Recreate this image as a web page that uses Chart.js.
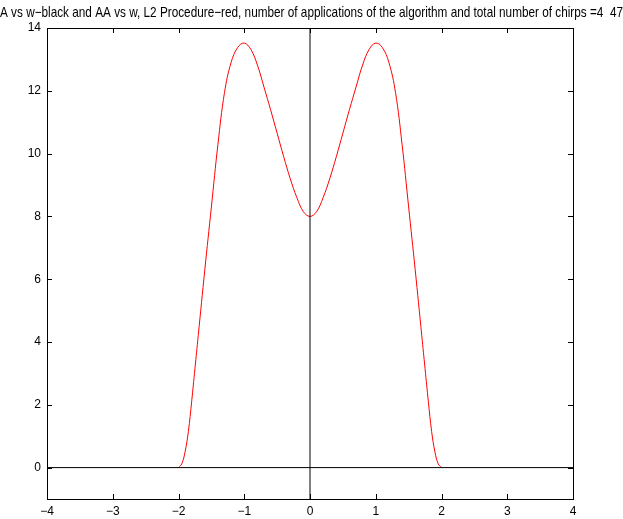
<!DOCTYPE html>
<html>
<head>
<meta charset="utf-8">
<script src="https://cdn.jsdelivr.net/npm/chart.js@4/dist/chart.umd.min.js"></script>
<style>
  body { margin: 0; background: #fff; }
  #wrap { width: 623px; height: 519px; }
</style>
</head>
<body>
<div id="wrap"><canvas id="plot" width="623" height="519"></canvas></div>
<script>
var titleText = 'A vs w\u2212black and AA vs w, L2 Procedure\u2212red, number of applications of the algorithm and total number of chirps =4  47';

var wRed = [-2, -1.95, -1.9, -1.85, -1.8, -1.75, -1.7, -1.6, -1.5, -1.4, -1.3, -1.2, -1.1, -1.0,
            -0.9, -0.8, -0.7, -0.6, -0.5, -0.4, -0.3, -0.2, -0.1, 0,
            0.1, 0.2, 0.3, 0.4, 0.5, 0.6, 0.7, 0.8, 0.9,
            1.0, 1.1, 1.2, 1.3, 1.4, 1.5, 1.6, 1.7, 1.75, 1.8, 1.85, 1.9, 1.95, 2];
var aaRed = [0, 0.12, 0.5, 1.15, 2.1, 3.15, 4.2, 6.3, 8.3, 10.3, 11.95, 12.9, 13.38, 13.52,
             13.32, 12.82, 12.12, 11.4, 10.65, 9.9, 9.2, 8.6, 8.15, 8.0,
             8.15, 8.6, 9.2, 9.9, 10.65, 11.4, 12.12, 12.82, 13.32,
             13.52, 13.38, 12.9, 11.95, 10.3, 8.3, 6.3, 4.2, 3.15, 2.1, 1.15, 0.5, 0.12, 0];

// black: A vs w (zero line) and the vertical line at w = 0
var wBlack = [-4, 4];
var aBlack = [0, 0];
var vLineX = [0, 0];
var vLineY = [-1, 14];

var xTicks = [-4, -3, -2, -1, 0, 1, 2, 3, 4];
var yTicks = [0, 2, 4, 6, 8, 10, 12, 14];

function pts(xs, ys) {
  return xs.map(function(x, i) { return { x: x, y: ys[i] }; });
}
function minus(v) {
  return String(v).replace('-', '\u2212');
}

// matlab style box with ticks pointing inwards
var boxTicks = {
  id: 'boxTicks',
  afterDatasetsDraw: function(chart) {
    var c = chart.ctx, a = chart.chartArea;
    var sx = chart.scales.x, sy = chart.scales.y;
    var len = 5;
    c.save();
    c.strokeStyle = '#000';
    c.lineWidth = 1;
    c.beginPath();
    xTicks.forEach(function(t) {
      var px = Math.round(sx.getPixelForValue(t)) + 0.5;
      c.moveTo(px, a.bottom); c.lineTo(px, a.bottom - len);
      c.moveTo(px, a.top); c.lineTo(px, a.top + len);
    });
    yTicks.forEach(function(t) {
      var py = Math.round(sy.getPixelForValue(t)) + 0.5;
      c.moveTo(a.left, py); c.lineTo(a.left + len, py);
      c.moveTo(a.right, py); c.lineTo(a.right - len, py);
    });
    c.stroke();
    c.strokeRect(Math.round(a.left) + 0.5, Math.round(a.top) + 0.5,
                 Math.round(a.right - a.left), Math.round(a.bottom - a.top));
    c.restore();
  }
};

var ctx = document.getElementById('plot').getContext('2d');

var myChart = new Chart(ctx, {
  type: 'scatter',
  data: {
    datasets: [{
      data: pts(wBlack, aBlack),
      showLine: true,
      borderColor: '#000',
      borderWidth: 1,
      pointRadius: 0
    }, {
      data: pts(vLineX, vLineY),
      showLine: true,
      borderColor: '#000',
      borderWidth: 1,
      pointRadius: 0
    }, {
      data: pts(wRed, aaRed),
      showLine: true,
      borderColor: '#ff0000',
      borderWidth: 1,
      pointRadius: 0,
      tension: 0.4
    }]
  },
  options: {
    responsive: false,
    animation: false,
    layout: { padding: 0 },
    plugins: {
      legend: { display: false },
      tooltip: { enabled: false },
      title: {
        display: true,
        text: titleText,
        color: '#000',
        font: { family: 'Liberation Sans', size: 14.5, weight: 'normal', lineHeight: 1.2 },
        padding: { top: 4, bottom: 6.6 }
      }
    },
    scales: {
      x: {
        type: 'linear',
        min: -4,
        max: 4,
        grid: { display: false, drawTicks: false },
        border: { display: false },
        afterBuildTicks: function(scale) {
          scale.ticks = xTicks.map(function(v) { return { value: v }; });
        },
        afterFit: function(scale) { scale.height = 20; },
        ticks: {
          color: '#000',
          padding: 5,
          maxRotation: 0,
          font: { family: 'Liberation Sans', size: 12 },
          callback: function(v) { return minus(v); }
        }
      },
      y: {
        type: 'linear',
        min: -1,
        max: 14,
        grid: { display: false, drawTicks: false },
        border: { display: false },
        afterBuildTicks: function(scale) {
          scale.ticks = yTicks.map(function(v) { return { value: v }; });
        },
        afterFit: function(scale) { scale.width = 47; },
        ticks: {
          color: '#000',
          padding: 6,
          font: { family: 'Liberation Sans', size: 12 },
          callback: function(v) { return minus(v); }
        }
      },
      // empty strip on the right, keeps the title box full width
      yRight: {
        type: 'linear',
        position: 'right',
        display: true,
        min: -1,
        max: 14,
        grid: { display: false, drawTicks: false },
        border: { display: false },
        ticks: { display: false },
        afterFit: function(scale) { scale.width = 50; }
      }
    }
  },
  plugins: [boxTicks]
});
</script>
</body>
</html>
